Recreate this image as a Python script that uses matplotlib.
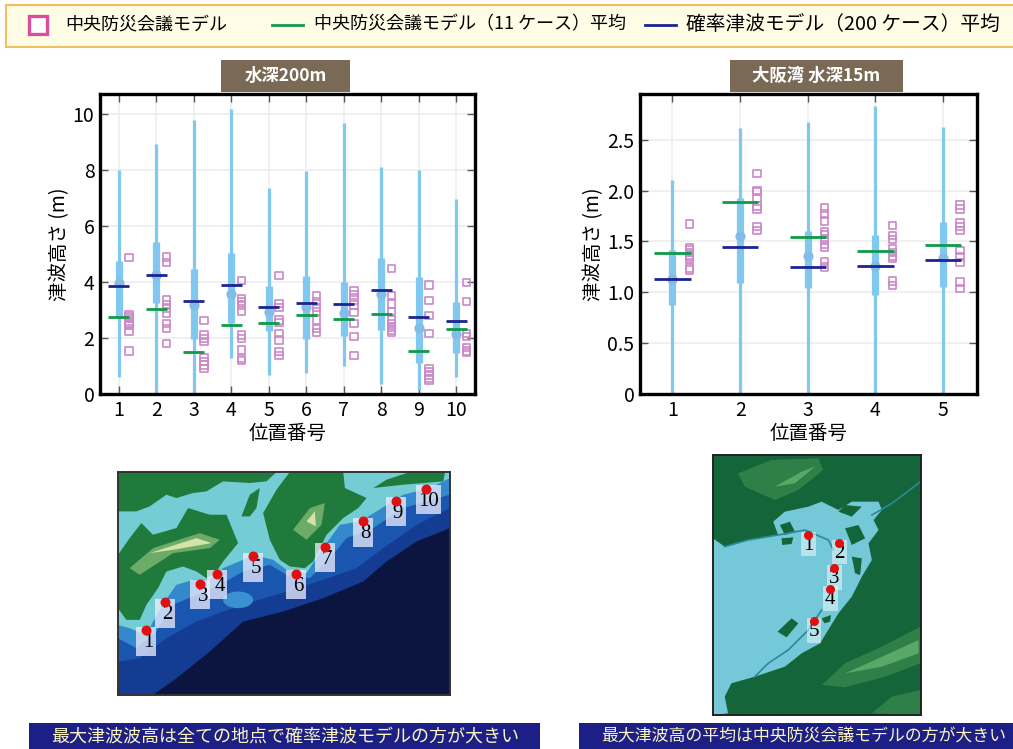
import matplotlib
matplotlib.use("Agg")
import matplotlib.pyplot as plt
import numpy as np
from matplotlib.patches import Polygon, Rectangle, Ellipse

plt.rcParams['font.family'] = ['Noto Sans CJK JP', 'DejaVu Sans']

W, H = 1013, 749

# 水深200m
pos_a = [1, 2, 3, 4, 5, 6, 7, 8, 9, 10]
wh_lo_a = [0.62, 0, 0, 1.3, 0.68, 0.76, 1.01, 0.36, 0.14, 0.62]
wh_hi_a = [8.0, 8.92, 9.79, 10.18, 7.35, 7.96, 9.68, 8.1, 8.01, 6.96]
box_lo_a = [2.76, 3.24, 1.95, 2.52, 2.26, 1.96, 2.08, 2.29, 1.11, 1.46]
box_hi_a = [4.76, 5.44, 4.46, 5.05, 3.85, 4.2, 4.01, 4.86, 4.17, 3.27]
prob_a = [3.86, 4.26, 3.32, 3.88, 3.1, 3.25, 3.23, 3.7, 2.75, 2.6]
cent_a = [2.76, 3.04, 1.49, 2.48, 2.55, 2.81, 2.67, 2.86, 1.55, 2.32]
med_a = [3.95, 4.26, 3.18, 3.56, 2.94, 3.12, 2.88, 3.56, 2.36, 2.15]
sq_a = [
    [4.88, 2.82, 2.76, 2.70, 2.61, 2.52, 2.44, 2.23, 1.54],
    [4.9, 4.7, 3.36, 3.2, 3.06, 2.9, 2.52, 2.35, 1.81],
    [2.63, 2.11, 1.99, 1.87, 1.31, 1.15, 1.04, 0.92],
    [4.06, 3.42, 3.3, 3.18, 2.96, 2.11, 1.99, 1.57, 1.27, 1.2],
    [4.24, 3.23, 3.08, 2.64, 2.56, 2.17, 1.93, 1.51, 1.37],
    [3.5, 3.3, 3.08, 2.94, 2.64, 2.35, 2.2],
    [3.71, 3.54, 3.36, 3.18, 2.92, 2.51, 2.06, 1.37],
    [4.48, 3.51, 3.21, 2.94, 2.64, 2.52, 2.4, 2.29, 2.2],
    [3.89, 3.33, 2.8, 2.17, 0.92, 0.8, 0.68, 0.56, 0.5],
    [3.98, 3.31, 2.17, 2.05, 1.65, 1.54, 1.49],
]

# 大阪湾 水深15m
pos_b = [1, 2, 3, 4, 5]
wh_lo_b = [0, 0, 0, 0, 0]
wh_hi_b = [2.10, 2.62, 2.67, 2.83, 2.63]
box_lo_b = [0.875, 1.09, 1.04, 0.97, 1.05]
box_hi_b = [1.42, 1.93, 1.6, 1.56, 1.69]
prob_b = [1.13, 1.45, 1.25, 1.26, 1.32]
cent_b = [1.39, 1.89, 1.545, 1.41, 1.465]
med_b = [1.13, 1.55, 1.36, 1.26, 1.34]
sq_b = [
    [1.67, 1.44, 1.42, 1.39, 1.36, 1.34, 1.32, 1.24, 1.22],
    [2.17, 2.0, 1.99, 1.92, 1.85, 1.82, 1.65, 1.61],
    [1.83, 1.77, 1.70, 1.6, 1.57, 1.52, 1.47, 1.44, 1.30, 1.25],
    [1.66, 1.56, 1.52, 1.43, 1.39, 1.35, 1.33, 1.11, 1.07],
    [1.86, 1.82, 1.68, 1.65, 1.61, 1.41, 1.35, 1.29, 1.10, 1.04],
]

legend_labels = ['中央防災会議モデル', '中央防災会議モデル（11 ケース）平均', '確率津波モデル（200 ケース）平均']
banner_a = '最大津波波高は全ての地点で確率津波モデルの方が大きい'
banner_b = '最大津波高の平均は中央防災会議モデルの方が大きい'

# 地図 (左) の輪郭
a_shelf = [(25, 690), (130, 690), (200, 640), (300, 560), (400, 470), (520, 440), (640, 400), (760, 350), (830, 290), (920, 230), (1020, 190), (1020, 22), (25, 22)]
a_shelf2 = [(25, 590), (90, 580), (170, 520), (260, 470), (340, 440), (430, 410), (530, 380), (640, 345), (740, 310), (820, 250), (920, 180), (1020, 130), (1020, 22), (25, 22)]
a_shelf3 = [(25, 520), (80, 550), (140, 500), (190, 420), (260, 390), (330, 360), (400, 320), (480, 300), (530, 330), (600, 340), (660, 280), (710, 220), (790, 190), (880, 130), (1020, 90), (1020, 22), (25, 22)]
a_teal = [(25, 480), (60, 490), (110, 510), (130, 470), (165, 410), (200, 360), (250, 345), (300, 345), (340, 310), (400, 285), (430, 270), (490, 285), (530, 315), (590, 325), (640, 250), (690, 180), (750, 170), (800, 140), (880, 90), (960, 70), (1020, 40), (1020, 22), (25, 22)]
a_shikoku = [(25, 270), (60, 220), (95, 175), (130, 210), (200, 190), (235, 130), (300, 150), (350, 150), (385, 235), (340, 290), (320, 320), (290, 340), (260, 320), (220, 305), (170, 320), (145, 370), (110, 420), (90, 465), (50, 465), (25, 430)]
a_chugoku = [(25, 22), (500, 22), (470, 50), (420, 55), (340, 50), (290, 80), (250, 85), (200, 100), (170, 90), (120, 125), (80, 140), (25, 140)]
a_awaji = [(395, 155), (420, 90), (450, 70), (440, 130), (420, 155)]
a_kii = [(460, 145), (500, 75), (540, 22), (700, 22), (705, 70), (770, 100), (745, 130), (700, 160), (650, 210), (610, 290), (585, 310), (540, 305), (510, 285), (480, 225)]
a_chubu = [(790, 70), (830, 45), (900, 22), (1005, 22), (1000, 50), (880, 60)]
a_hill1 = [(60, 310), (130, 250), (270, 205), (330, 225), (300, 250), (190, 265), (90, 330)]
a_hill2 = [(550, 195), (600, 130), (645, 115), (635, 180), (590, 225)]
a_peak1 = [(120, 265), (260, 220), (305, 235), (190, 255)]
a_peak2 = [(590, 170), (615, 140), (618, 185)]
pts_a_x = [108, 165, 272, 323, 431, 558, 644, 760, 857, 948]
pts_a_y = [496, 412, 357, 327, 275, 327, 246, 170, 108, 72]

# 地図 (右) の輪郭
b_bay = [(25, 265), (60, 290), (130, 270), (220, 255), (205, 215), (240, 185), (310, 170), (350, 155), (400, 180), (440, 155), (520, 155), (530, 180), (505, 210), (520, 240), (490, 280), (500, 330), (470, 380), (440, 440), (400, 490), (345, 580), (290, 610), (240, 650), (150, 680), (80, 700), (60, 740), (70, 790), (25, 795)]
b_river = [(500, 195), (560, 160), (600, 130), (645, 95)]
b_coast1 = [(60, 290), (130, 270), (220, 255), (300, 240), (370, 270), (385, 300)]
b_coast2 = [(150, 680), (190, 640), (250, 600), (310, 540), (350, 480)]
b_hill1 = [(100, 70), (200, 30), (340, 25), (355, 60), (280, 120), (210, 150), (120, 110)]
b_hill1c = [(210, 110), (290, 65), (330, 50), (270, 100)]
b_hill2 = [(350, 705), (420, 640), (530, 590), (645, 530), (645, 640), (540, 680), (420, 712)]
b_hill2c = [(420, 670), (520, 625), (640, 570), (640, 610), (530, 650)]
b_hill3 = [(500, 790), (560, 740), (645, 720), (645, 795)]
b_isl = [(218, 545), (260, 505), (280, 520), (245, 562)]
b_reclaim = [
    [(225, 225), (255, 215), (270, 245), (240, 255)],
    [(230, 265), (265, 262), (260, 282), (232, 285)],
    [(420, 235), (460, 225), (480, 265), (440, 285)],
    [(440, 320), (470, 325), (465, 375), (450, 370)],
    [(400, 185), (440, 200), (470, 170), (420, 165)],
    [(350, 505), (378, 495), (375, 515), (358, 520)],
]
pts_b_x = [309, 402, 387, 375, 326]
pts_b_y = [254, 278, 355, 418, 514]


def ax_px(l, t, r, b):
    return [l / W, 1 - b / H, (r - l) / W, (b - t) / H]


def draw_panel(ax, pos, wh_lo, wh_hi, box_lo, box_hi, prob, cent, med, sq, dx, hw):
    ax.vlines(pos, wh_lo, wh_hi, color='#80c8f0', lw=2.3, zorder=2)
    ax.vlines(pos, box_lo, box_hi, color='#80c8f0', lw=5.2, zorder=2)
    ax.scatter(pos, med, s=40, color='#84bce8', zorder=2)
    for p, vals in zip(pos, sq):
        ax.scatter([p + dx] * len(vals), vals, s=28, marker='s', facecolor='none',
                   edgecolor='#cc88c8', linewidth=1.2, zorder=3)
    ax.hlines(prob, np.array(pos) - hw, np.array(pos) + hw, color='#1c2490', lw=2, zorder=4)
    ax.hlines(cent, np.array(pos) - hw, np.array(pos) + hw, color='#0f9a48', lw=2, zorder=4)
    ax.grid(True, color='#eeeeee', lw=1.2)
    ax.set_axisbelow(True)
    ax.tick_params(direction='in', length=6, width=1, color='#555555', labelsize=14, pad=4,
                   top=True, right=True)
    ax.set_xticks(pos)
    for s in ax.spines.values():
        s.set_linewidth(2.4)
    ax.set_xlabel('位置番号', fontsize=14, labelpad=1.5)
    ax.set_ylabel('津波高さ (m)', fontsize=14, labelpad=2)


fig = plt.figure(figsize=(W / 100, H / 100), dpi=100)

# 全体のオーバーレイ (ピクセル座標)
bg = fig.add_axes([0, 0, 1, 1])
bg.set_xlim(0, W)
bg.set_ylim(H, 0)
bg.axis('off')

# 凡例
bg.add_patch(Rectangle((6, 5), 1020, 42, fc='#fffde6', ec='#f0c060', lw=1.5))
bg.add_patch(Rectangle((29, 16), 18, 18, fc='white', ec='#d84f9c', lw=2.4))
bg.text(65, 24.5, legend_labels[0], fontsize=13, va='center')
bg.plot([272, 303], [25, 25], color='#0f9a48', lw=2)
bg.text(314, 24.5, legend_labels[1], fontsize=13, va='center')
bg.plot([645, 676], [25, 25], color='#1c2490', lw=2)
bg.text(686, 24.5, legend_labels[2], fontsize=14.2, va='center')

# パネルの見出し
for x0, x1, t in [(221, 350, '水深200m'), (730, 903, '大阪湾 水深15m')]:
    bg.add_patch(Rectangle((x0, 60), x1 - x0, 32, fc='#7a6a55', ec='none'))
    bg.text((x0 + x1) / 2, 76, t, color='white', fontsize=12.5, weight='bold', ha='center', va='center')

# 下の帯
bg.add_patch(Rectangle((29, 723), 511, 26, fc='#1c1f85', ec='none'))
bg.add_patch(Rectangle((579, 723), 434, 26, fc='#1c1f85', ec='none'))
bg.text(285, 737, banner_a, color='#fdf5c0', fontsize=13, ha='center', va='center')
bg.text(601, 737, banner_b, color='#fdf5c0', fontsize=12.2, ha='left', va='center')

ax1 = fig.add_axes(ax_px(100, 94, 475, 394))
draw_panel(ax1, pos_a, wh_lo_a, wh_hi_a, box_lo_a, box_hi_a, prob_a, cent_a, med_a, sq_a, 0.27, 0.285)
ax1.set_xlim(0.5, 10.5)
ax1.set_ylim(0, 10.72)
ax1.set_yticks([0, 2, 4, 6, 8, 10])

ax2 = fig.add_axes(ax_px(640, 94, 977, 394))
draw_panel(ax2, pos_b, wh_lo_b, wh_hi_b, box_lo_b, box_hi_b, prob_b, cent_b, med_b, sq_b, 0.25, 0.27)
ax2.set_xlim(0.52, 5.5)
ax2.set_ylim(0, 2.95)
ax2.set_yticks([0, 0.5, 1.0, 1.5, 2.0, 2.5])
ax2.set_yticklabels(['0', '0.5', '1.0', '1.5', '2.0', '2.5'])

# 地図 (左)
m1 = fig.add_axes(ax_px(118, 472, 450, 695))
m1.set_xlim(25, 1020)
m1.set_ylim(690, 22)
m1.set_xticks([])
m1.set_yticks([])
m1.set_facecolor('#0b1540')
for sp in m1.spines.values():
    sp.set_linewidth(1.4)
    sp.set_color('#333333')
for poly, col in [(a_shelf, '#133c92'), (a_shelf2, '#1a55b0'), (a_shelf3, '#3488cc'), (a_teal, '#74ccd4')]:
    m1.add_patch(Polygon(poly, fc=col, ec='none'))
m1.add_patch(Ellipse((385, 405), 90, 50, fc='#3a90d0', ec='none'))
for poly in [a_shikoku, a_chugoku, a_awaji, a_kii, a_chubu]:
    m1.add_patch(Polygon(poly, fc='#1f7a3c', ec='none'))
for poly in [a_hill1, a_hill2]:
    m1.add_patch(Polygon(poly, fc='#6cac68', ec='none'))
for poly in [a_peak1, a_peak2]:
    m1.add_patch(Polygon(poly, fc='#d4e4a8', ec='none'))
for i, (x, y) in enumerate(zip(pts_a_x, pts_a_y)):
    w = 75 if i == 9 else 60
    m1.add_patch(Rectangle((x - 30, y - 10), w, 86, fc='#f0f0ff', ec='none', alpha=0.75, zorder=4))
    m1.text(x + 7, y + 37, str(i + 1), family='Liberation Serif', fontsize=15, ha='center', va='center', zorder=5)
m1.scatter(pts_a_x, pts_a_y, s=38, color='#e01010', zorder=6)

# 地図 (右)
m2 = fig.add_axes(ax_px(713, 455, 921, 715))
m2.set_xlim(25, 647)
m2.set_ylim(795, 15)
m2.set_xticks([])
m2.set_yticks([])
m2.set_facecolor('#14663a')
for sp in m2.spines.values():
    sp.set_linewidth(1.4)
    sp.set_color('#222222')
m2.add_patch(Polygon(b_bay, fc='#74c8d8', ec='none'))
for poly in b_reclaim + [b_isl]:
    m2.add_patch(Polygon(poly, fc='#14663a', ec='none'))
for line in [b_river, b_coast1, b_coast2]:
    m2.plot(*zip(*line), color='#2a8a98', lw=1.2)
for poly in [b_hill1, b_hill2, b_hill3]:
    m2.add_patch(Polygon(poly, fc='#2f8048', ec='none'))
for poly in [b_hill1c, b_hill2c]:
    m2.add_patch(Polygon(poly, fc='#5aa868', ec='none'))
for i, (x, y) in enumerate(zip(pts_b_x, pts_b_y)):
    m2.add_patch(Rectangle((x - 21, y - 9), 44, 73, fc='white', ec='none', alpha=0.5, zorder=4))
    m2.text(x, y + 31, str(i + 1), family='Liberation Serif', fontsize=15, ha='center', va='center', zorder=5)
m2.scatter(pts_b_x, pts_b_y, s=30, color='#e01010', zorder=6)

fig.savefig('out.png', dpi=100)
